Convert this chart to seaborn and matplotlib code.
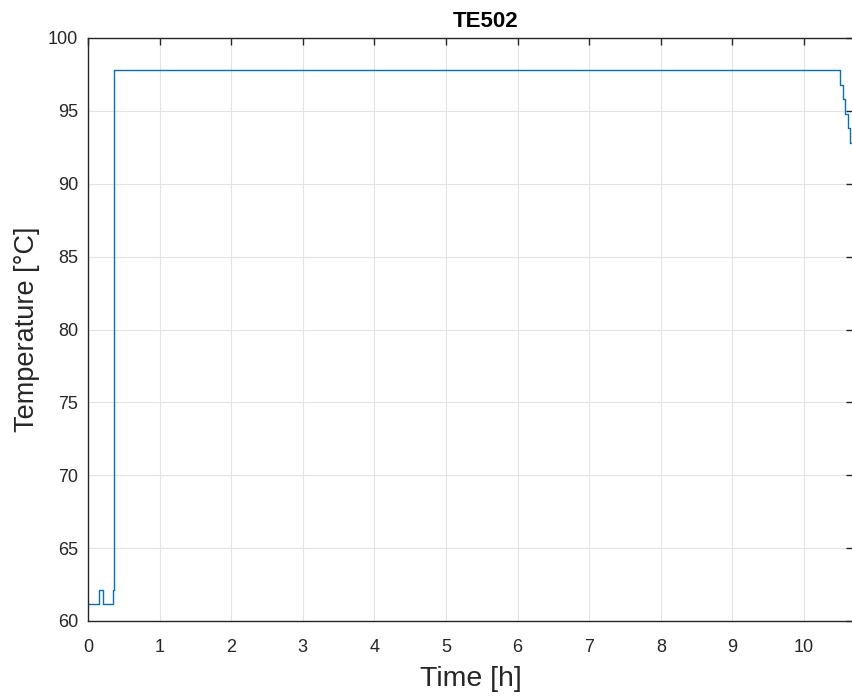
import matplotlib
matplotlib.use("Agg")
import matplotlib.pyplot as plt
import seaborn as sns
import pandas as pd

# Step data (time in hours, temperature in °C)
time_h = [0.0, 0.158, 0.214, 0.345, 0.36, 10.505, 10.54, 10.58, 10.615, 10.65, 10.685]
temp_c = [61.2, 62.1, 61.2, 62.1, 97.8, 96.8, 95.8, 94.8, 93.8, 92.8, 92.8]

x_ticks = list(range(0, 11))
y_ticks = [60, 65, 70, 75, 80, 85, 90, 95, 100]

sns.set_theme(style="white")
plt.rcParams['font.family'] = ['Liberation Sans', 'DejaVu Sans']

df = pd.DataFrame({"Time [h]": time_h, "Temperature [°C]": temp_c})

fig = plt.figure(figsize=(8.52, 6.98), dpi=100)
ax = fig.add_axes([88/852, 1 - 621/698, (853-88)/852, (621-38)/698])

sns.lineplot(data=df, x="Time [h]", y="Temperature [°C]", ax=ax,
             drawstyle="steps-post", color="#0072BD", linewidth=1.0)

ax.set_xlim(0, 10.685)
ax.set_ylim(60, 100)
ax.set_xticks(x_ticks)
ax.set_yticks(y_ticks)
ax.grid(True, color="#e3e3e3", linewidth=0.8)
ax.set_axisbelow(True)
for s in ax.spines.values():
    s.set_color("#262626")
    s.set_linewidth(1.0)
    s.set_visible(True)
ax.tick_params(direction="in", length=5, width=1, colors="#262626",
               top=True, right=True, labelsize=13)
ax.tick_params(axis="x", pad=13)
ax.tick_params(axis="y", pad=7)
ax.set_xlabel("Time [h]", fontsize=20.5, color="#262626", labelpad=7)
ax.set_ylabel("Temperature [°C]", fontsize=19.5, color="#262626", labelpad=6)
ax.set_title("TE502", fontsize=16, fontweight="bold", color="black", pad=8, x=0.52)

fig.savefig("out.png", dpi=100)
